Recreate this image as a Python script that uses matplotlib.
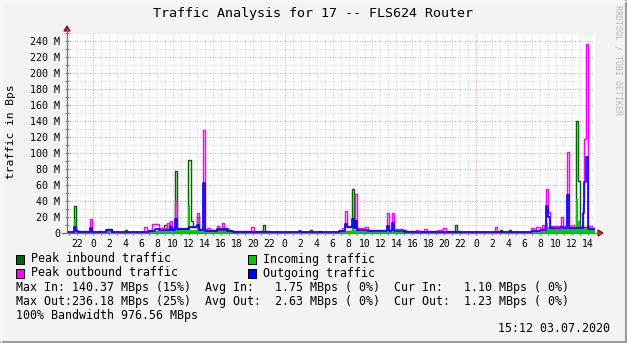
"""
RRDtool style traffic graph for router FLS624
"""

import matplotlib
matplotlib.use("Agg")
import matplotlib.pyplot as plt
from matplotlib.patches import Rectangle, Polygon
from matplotlib.lines import Line2D
import numpy as np

W, H = 627, 343
T_START, T_END = -3.3, 62.9   # hours since 01.07.2020 00:00

# step series: start hour of each step and its value (MBps)
peak_in_t = [-3.3, -2.42, -2.17, -1.9, 1.6, 2.3, 3.95, 4.2, 7.0, 8.9, 9.2, 10.2, 10.45,
             11.87, 12.2, 12.45, 13.0, 13.3, 14.0, 16.5, 16.9, 17.3, 21.3, 21.55,
             27.2, 27.45, 28.3, 28.55, 31.0, 32.45, 32.65, 33.2, 35.0, 39.0, 39.25,
             45.35, 45.6, 51.0, 51.25, 52.1, 52.35, 56.0, 60.5, 60.75, 61.0, 62.2]
peak_in_v = [1.5, 34, 3, 1.5, 5, 1.5, 3.5, 1.5, 3, 10, 5, 77, 5,
             91, 15, 7, 20, 5, 4, 6, 4, 1.5, 10, 1.5,
             3.5, 1.5, 3, 1.5, 3, 55, 6, 3, 1.5, 3.5, 1.5,
             10, 1.5, 4, 1.5, 3.5, 1.5, 5, 140, 65, 8, 5]

incoming_t = [-3.3, -2.42, -2.17, -1.9, 1.6, 2.3, 7.0, 8.5, 10.2, 10.45, 11.9, 12.15,
              13.0, 13.3, 15.0, 17.0, 31.0, 32.45, 32.65, 33.2, 35.0, 55.5, 56.2,
              56.7, 56.95, 58.0, 59.0, 59.4, 60.5, 60.75, 61.0, 62.0]
incoming_v = [0.8, 17, 1, 0.8, 2.5, 0.8, 3, 4, 5, 4, 35, 4,
              6, 4, 2.5, 0.8, 2.5, 16, 4, 2, 0.8, 2.5, 6,
              12, 7, 5, 8, 6, 43, 15, 6, 4]

peak_out_t = [-3.3, -2.42, -2.17, -0.41, -0.16, 0.75, 1.0, 1.6, 2.3, 4.3, 6.4, 6.75,
              7.3, 8.2, 9.3, 9.55, 9.65, 9.9, 10.2, 10.45, 11.9, 12.5, 13.0, 13.3,
              13.76, 13.97, 14.3, 14.6, 15.55, 15.8, 16.1, 16.4, 17.0, 18.0, 19.8,
              20.1, 22.0, 30.8, 31.2, 31.6, 31.85, 32.8, 33.1, 34.1, 34.5, 36.8,
              37.05, 37.5, 37.75, 38.5, 38.8, 40.4, 40.7, 41.5, 41.8, 43.2, 43.9,
              44.2, 46.0, 50.35, 50.6, 54.9, 55.2, 55.5, 56.0, 56.2, 56.45, 56.7,
              56.95, 57.2, 58.6, 58.85, 59.4, 59.6, 59.9, 60.3, 61.0, 61.37, 61.53,
              61.74, 61.99, 62.5]
peak_out_v = [1.5, 9, 2, 17, 1.5, 3, 1.5, 3, 1.5, 1.8, 7, 4,
              11, 6, 13, 8, 15, 6, 40, 6, 8, 7, 25, 5,
              129, 4, 6, 4, 9, 5, 13, 5, 3, 2, 7,
              2, 1.8, 4, 6.6, 27.5, 8, 48.75, 6, 7, 4, 25,
              4, 25, 5, 4.5, 3, 4, 2.5, 4.5, 2.5, 4, 6,
              2, 1.8, 8, 1.8, 6, 3, 8, 5, 10, 5, 55,
              26, 9, 20, 9, 101, 8, 10, 7, 9, 37, 117,
              236, 9, 5]

outgoing_t = [-3.3, -2.42, -2.17, -1.9, -0.41, -0.16, 1.6, 2.3, 7.0, 7.7, 8.2, 9.65,
              9.9, 10.2, 10.45, 12.0, 13.0, 13.3, 13.76, 13.97, 15.5, 16.8, 17.5,
              25.8, 26.1, 30.8, 31.6, 31.85, 32.45, 32.65, 32.8, 33.1, 34.5, 36.8,
              37.05, 37.5, 37.75, 39.0, 47.0, 55.0, 56.0, 56.7, 56.95, 57.2, 58.6,
              58.85, 59.4, 59.6, 61.37, 61.53, 61.74, 61.99]
outgoing_v = [1, 7, 2, 1, 6, 1, 4, 1, 2.5, 5, 3.5, 8,
              4, 18, 5, 7, 10, 4, 62, 3, 5, 2.5, 1,
              3, 1, 3, 11, 8, 17, 6, 15, 4, 2, 9,
              3, 12.5, 3, 1.5, 1, 2, 4, 34, 20, 6, 8,
              6, 47.5, 6, 25, 64, 95, 5]

legend_rows = [("Peak inbound traffic", "#006600", "Incoming traffic", "#00CC00"),
               ("Peak outbound traffic", "#FF00FF", "Outgoing traffic", "#0000FF")]
stats_lines = ["Max In: 140.37 MBps (15%)  Avg In:   1.75 MBps ( 0%)  Cur In:   1.10 MBps ( 0%)",
               "Max Out:236.18 MBps (25%)  Avg Out:  2.63 MBps ( 0%)  Cur Out:  1.23 MBps ( 0%)",
               "100% Bandwidth 976.56 MBps"]

MONO = "DejaVu Sans Mono"


def fx(x):
    return x / W


def fy(y):
    return 1 - y / H


def steps(t, v):
    return np.array(t + [T_END]), np.array(v + [v[-1]])


fig = plt.figure(figsize=(W / 100, H / 100), dpi=100)
fig.patch.set_facecolor("#F3F3F3")

ax = fig.add_axes([fx(67), fy(233), (595 - 67) / W, 200 / H])
ax.set_facecolor("white")
ax.set_xlim(T_START, T_END)
ax.set_ylim(0, 250)
for s in ax.spines.values():
    s.set_visible(False)

# grid: gray every hour / 10 M, red dotted at midnight / 20 M
for h in np.arange(-3, 63):
    col = "#E0A0A0" if h % 24 == 0 else "#D4D4D4"
    ax.axvline(h, color=col, lw=0.72, ls=(0, (1, 1.5)), zorder=0)
for v in range(10, 251, 10):
    col = "#E0A0A0" if v % 20 == 0 else "#D4D4D4"
    ax.axhline(v, color=col, lw=0.72, ls=(0, (1, 1.5)), zorder=0)

# data
t, v = steps(peak_in_t, peak_in_v)
ax.step(t, v, where="post", color="#006600", lw=1.05, zorder=2)
t, v = steps(incoming_t, incoming_v)
ax.fill_between(t, v, step="post", color="#00CC00", lw=0, zorder=3)
t, v = steps(peak_out_t, peak_out_v)
ax.step(t, v, where="post", color="#FF00FF", lw=1.05, zorder=4)
t, v = steps(outgoing_t, outgoing_v)
ax.step(t, v, where="post", color="#0000FF", lw=1.2, zorder=5)

# ticks
xt = np.arange(-2, 63, 2)
ax.set_xticks(xt)
ax.set_xticklabels([str(int(h) % 24) for h in xt], fontfamily=MONO, fontsize=7)
ax.set_xticks(np.arange(-3, 63), minor=True)
yt = np.arange(0, 241, 20)
ax.set_yticks(yt)
ax.set_yticklabels(["0" if y == 0 else "%d M" % y for y in yt], fontfamily=MONO, fontsize=7.2)
ax.set_yticks(np.arange(0, 251, 10), minor=True)
ax.tick_params(which="both", direction="inout", length=3, width=0.72, color="#808080")
ax.tick_params(axis="x", pad=2.5)
ax.tick_params(axis="y", pad=3.5)

# axis lines and arrows
fig.add_artist(Line2D([fx(62), fx(600)], [fy(233), fy(233)], color="#707070", lw=0.9))
fig.add_artist(Line2D([fx(67), fx(67)], [fy(233), fy(29)], color="#707070", lw=0.9))
fig.add_artist(Polygon([(fx(64), fy(31)), (fx(70), fy(31)), (fx(67), fy(26))],
                       closed=True, color="#8B1A1A"))
fig.add_artist(Polygon([(fx(598), fy(230)), (fx(598), fy(236)), (fx(603), fy(233))],
                       closed=True, color="#8B1A1A"))

# texts
fig.text(fx(313), fy(13), "Traffic Analysis for 17 -- FLS624 Router",
         ha="center", va="center", fontfamily=MONO, fontsize=9.6)
fig.text(fx(11), fy(132), "traffic in Bps", rotation=90, ha="center", va="center",
         fontfamily=MONO, fontsize=8.1)
fig.text(fx(618), fy(5), "RRDTOOL / TOBI OETIKER", rotation=270, ha="center", va="top",
         fontfamily=MONO, fontsize=6, color="#B8B8B8")

for i, (l1, c1, l2, c2) in enumerate(legend_rows):
    y = 259 + 14 * i
    for xs, xt_, lab, col in [(16, 31, l1, c1), (248, 263, l2, c2)]:
        fig.add_artist(Rectangle((fx(xs), fy(y + 4.5)), 8 / W, 9 / H, transform=fig.transFigure,
                                 facecolor=col, edgecolor="black", lw=0.72))
        fig.text(fx(xt_), fy(y), lab, ha="left", va="center", fontfamily=MONO, fontsize=8.4)

for i, line in enumerate(stats_lines):
    fig.text(fx(16), fy(287 + 14 * i), line, ha="left", va="center",
             fontfamily=MONO, fontsize=8.4)

fig.text(fx(610), fy(329), "15:12 03.07.2020", ha="right", va="center",
         fontfamily=MONO, fontsize=8.4)

# frame shading
fig.add_artist(Line2D([fx(626), fx(626)], [fy(0), fy(343)], color="#9A9A9A", lw=1.5))
fig.add_artist(Line2D([fx(0), fx(627)], [fy(342), fy(342)], color="#9A9A9A", lw=1.5))
fig.add_artist(Line2D([fx(0.5), fx(0.5)], [fy(0), fy(343)], color="#FFFFFF", lw=1.0))
fig.add_artist(Line2D([fx(0), fx(627)], [fy(0.5), fy(0.5)], color="#FFFFFF", lw=1.0))

plt.savefig("out.png", dpi=100, facecolor=fig.get_facecolor())
